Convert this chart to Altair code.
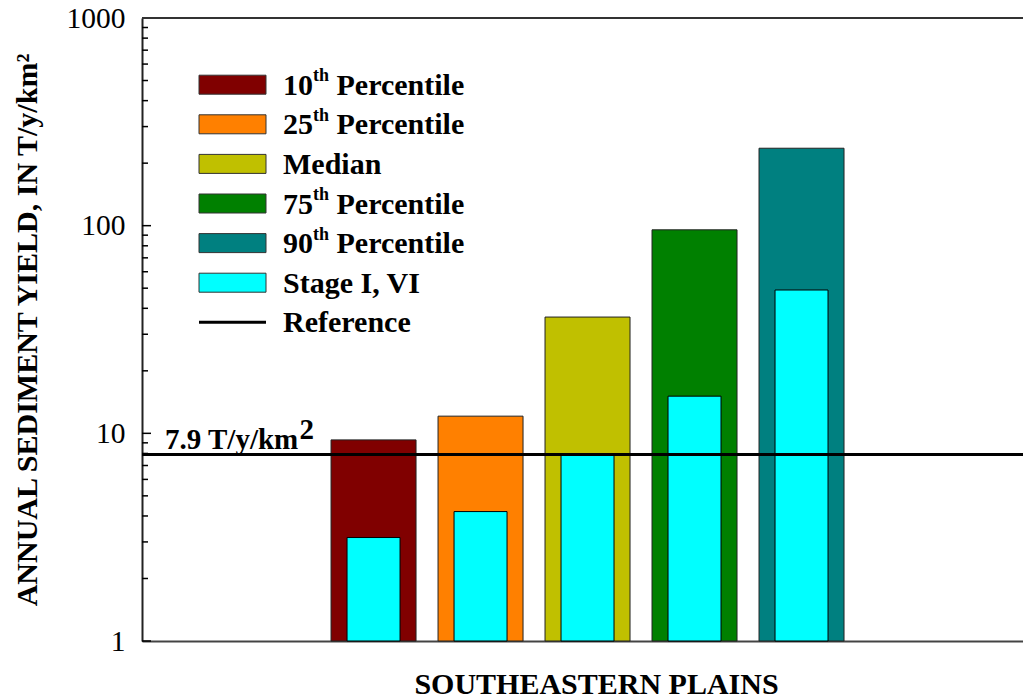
import altair as alt
import pandas as pd

# ---------------- data ----------------
categories = ["10th Percentile", "25th Percentile", "Median", "75th Percentile", "90th Percentile"]
percentile_values = [9.3, 12.1, 36.3, 95.5, 236]
stage_values = [3.15, 4.2, 7.9, 15.1, 49]
bar_colors = ["#800000", "#FF8000", "#C0C000", "#008000", "#008080"]
stage_label = "Stage I, VI"
stage_color = "#00FFFF"
reference_value = 7.9
y_tick_labels = [1, 10, 100, 1000]
region_name = "SOUTHEASTERN PLAINS"

legend_main = ["10", "25", "Median", "75", "90", "Stage I, VI"]
legend_sup = ["th", "th", "", "th", "th", ""]
legend_rest = ["Percentile", "Percentile", "", "Percentile", "Percentile", ""]
legend_colors = bar_colors + [stage_color]

# ---------------- layout ----------------
W, H = 881, 623
FONT = "Liberation Serif"
FS_TITLE = 30
FS_LAB = 29.5
FS_LEG = 30
FS_REF = 29
SUP = 18

bars = pd.DataFrame({
    "idx": list(range(len(categories))),
    "category": categories,
    "value": percentile_values,
    "stage": stage_values,
    "color": bar_colors,
})

xscale = alt.Scale(domain=[-2.164, 6.07], nice=False, zero=False, padding=0)
yscale = alt.Scale(type="log", domain=[1, 1000], nice=False, padding=0)

base = alt.Chart(bars)

outer = base.mark_bar(size=85, stroke="#222222", strokeWidth=1).encode(
    x=alt.X("idx:Q", scale=xscale,
            axis=alt.Axis(title=region_name, labels=False, ticks=False, grid=False,
                          domainColor="#444444", domainWidth=2,
                          titleFont=FONT, titleFontSize=FS_TITLE, titleFontWeight="bold",
                          titleColor="black", titleX=454, titleY=52,
                          titleAlign="center", titleBaseline="alphabetic")),
    y=alt.Y("value:Q", scale=yscale,
            axis=alt.Axis(title="ANNUAL SEDIMENT YIELD, IN T/y/km²", values=y_tick_labels,
                          format="d", ticks=False, grid=False, labelPadding=17,
                          labelFont=FONT, labelFontSize=FS_LAB, labelColor="black",
                          domainColor="#222222", domainWidth=2,
                          titleFont=FONT, titleFontSize=FS_TITLE, titleFontWeight="bold",
                          titleColor="black", titlePadding=24)),
    y2=alt.datum(1),
    color=alt.Color("color:N", scale=None),
)

inner = base.mark_bar(size=53, stroke="black", strokeWidth=1, color=stage_color).encode(
    x=alt.X("idx:Q", scale=xscale),
    y=alt.Y("stage:Q", scale=yscale),
    y2=alt.datum(1),
)

ref_line = alt.Chart(pd.DataFrame({"ref": [reference_value]})).mark_rule(
    color="black", strokeWidth=3).encode(
    y=alt.Y("ref:Q", scale=yscale),
    x=alt.value(0), x2=alt.value(W),
)

ref_text = alt.Chart(pd.DataFrame({"ref": [reference_value]})).mark_text(
    font=FONT, fontSize=FS_REF, fontWeight="bold", align="left", baseline="alphabetic",
    dy=-6, color="black").encode(
    y=alt.Y("ref:Q", scale=yscale),
    x=alt.value(23),
    text=alt.value("7.9 T/y/km"),
)
ref_sup = alt.Chart(pd.DataFrame({"ref": [reference_value]})).mark_text(
    font=FONT, fontSize=FS_REF, fontWeight="bold", align="left", baseline="alphabetic",
    dy=-16, color="black").encode(
    y=alt.Y("ref:Q", scale=yscale),
    x=alt.value(23 + 4.57 * FS_REF + 2),
    text=alt.value("2"),
)

# inward ticks on y axis
major = [m for m in y_tick_labels]
minor = [m * 10 ** e for e in range(3) for m in range(2, 10)]
major_ticks = alt.Chart(pd.DataFrame({"v": major})).mark_rule(color="black", strokeWidth=1.5).encode(
    y=alt.Y("v:Q", scale=yscale), x=alt.value(0), x2=alt.value(9))
minor_ticks = alt.Chart(pd.DataFrame({"v": minor})).mark_rule(color="black", strokeWidth=1.5).encode(
    y=alt.Y("v:Q", scale=yscale), x=alt.value(0), x2=alt.value(6))

top_line = alt.Chart(pd.DataFrame({"v": [1000]})).mark_rule(color="#333333", strokeWidth=2).encode(
    y=alt.Y("v:Q", scale=yscale), x=alt.value(0), x2=alt.value(W))

# ---------------- manual legend ----------------
lx0 = 57          # swatch left (plot coords)
lx1 = 124         # swatch right
tx0 = 141         # text start
row0 = 66.7
step = 39.6
rows = []
for i, (m, s, r, c) in enumerate(zip(legend_main, legend_sup, legend_rest, legend_colors)):
    cy = row0 + step * i
    wm = 0.5 * FS_LEG * len(m) if s else 0
    ws = 0.889 * SUP if s else 0
    rows.append({"main": m, "sup": s, "rest": r, "color": c,
                 "y0": cy - 9.5, "y1": cy + 9.5, "ty": cy + 10, "sy": cy - 3.5,
                 "x0": lx0, "x1": lx1, "tx": tx0, "sx": tx0 + wm,
                 "rx": tx0 + wm + ws + 0.25 * FS_LEG})
leg = pd.DataFrame(rows)
line_y = row0 + step * len(legend_main)
leg_line = pd.DataFrame({"main": ["Reference"], "y": [line_y], "ty": [line_y + 10],
                         "x0": [lx0], "x1": [lx1], "tx": [tx0]})

lb = alt.Chart(leg)
leg_rect = lb.mark_rect(stroke="#333333", strokeWidth=1).encode(
    x=alt.X("x0:Q", scale=None), x2="x1:Q",
    y=alt.Y("y0:Q", scale=None), y2="y1:Q",
    color=alt.Color("color:N", scale=None))
txt = dict(font=FONT, fontWeight="bold", align="left", baseline="alphabetic", color="black")
leg_main = lb.mark_text(fontSize=FS_LEG, **txt).encode(
    x=alt.X("tx:Q", scale=None), y=alt.Y("ty:Q", scale=None), text="main:N")
leg_sup = lb.mark_text(fontSize=SUP, **txt).encode(
    x=alt.X("sx:Q", scale=None), y=alt.Y("sy:Q", scale=None), text="sup:N")
leg_rest = lb.mark_text(fontSize=FS_LEG, **txt).encode(
    x=alt.X("rx:Q", scale=None), y=alt.Y("ty:Q", scale=None), text="rest:N")

ll = alt.Chart(leg_line)
leg_lrule = ll.mark_rule(color="black", strokeWidth=3).encode(
    x=alt.X("x0:Q", scale=None), x2="x1:Q", y=alt.Y("y:Q", scale=None))
leg_ltext = ll.mark_text(fontSize=FS_LEG, **txt).encode(
    x=alt.X("tx:Q", scale=None), y=alt.Y("ty:Q", scale=None), text="main:N")

chart = alt.layer(
    outer, inner, ref_line, ref_text, ref_sup, major_ticks, minor_ticks, top_line,
    leg_rect, leg_main, leg_sup, leg_rest, leg_lrule, leg_ltext,
).properties(
    width=W, height=H,
    autosize=alt.AutoSizeParams(type="none"),
    padding={"left": 142, "top": 18, "right": 0, "bottom": 59},
    background="white",
).configure_view(strokeWidth=0)

chart.save("out.html", embed_options={"renderer": "svg", "actions": False})
